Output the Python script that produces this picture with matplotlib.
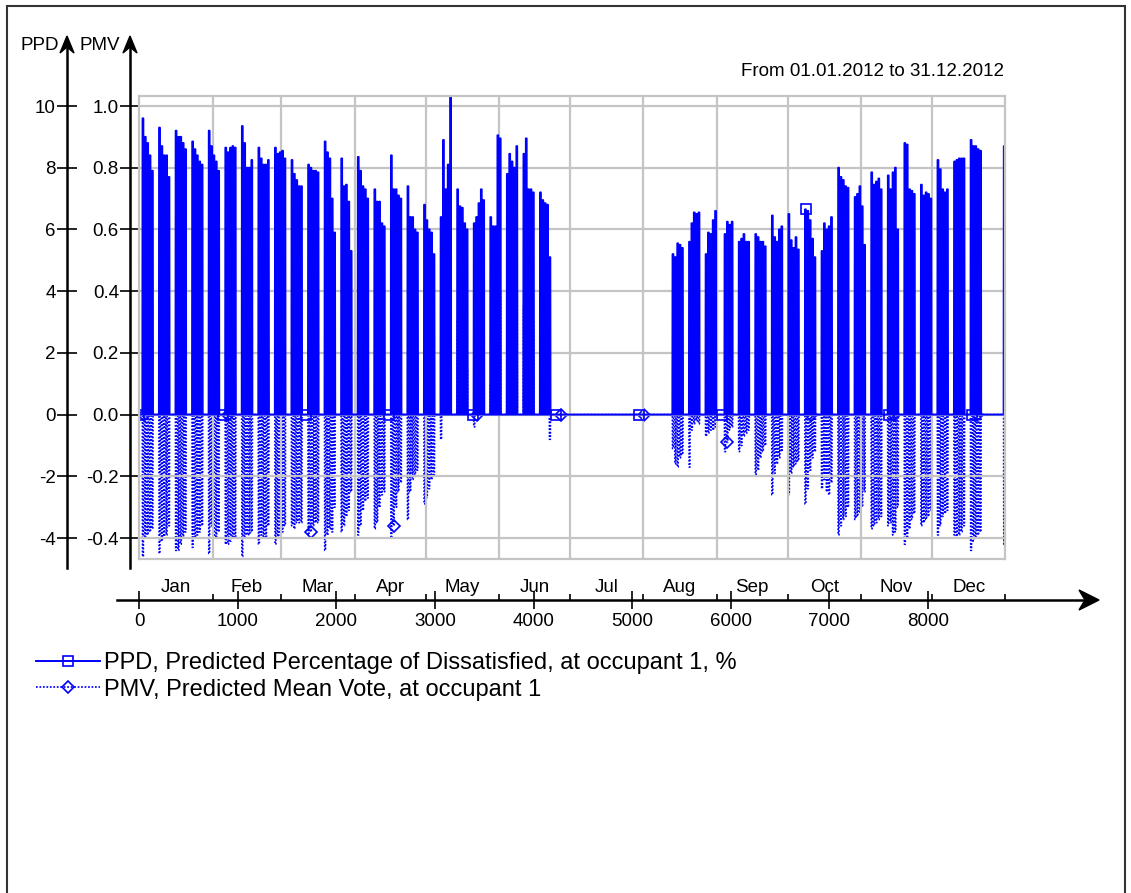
import numpy as np
import matplotlib
matplotlib.use("Agg")
import matplotlib.pyplot as plt
import matplotlib.transforms as mtransforms
from matplotlib.patches import Polygon, Rectangle

plt.rcParams['font.family'] = ['Liberation Sans', 'DejaVu Sans']

# daily maximum PPD (%) Mon..Fri, week 0 = 2-6 Jan 2012; empty weeks = no occupancy
ppd_weeks = [
    [9.6, 9.0, 8.8, 8.4, 7.9], [9.3, 8.7, 8.4, 8.4, 7.7], [9.2, 9.0, 9.0, 8.8, 8.6],
    [8.85, 8.6, 8.4, 8.2, 8.1], [9.2, 8.7, 8.4, 8.2, 7.9], [8.65, 8.5, 8.65, 8.7, 8.65],
    [9.35, 8.8, 8.0, 8.0, 8.25], [8.65, 8.3, 8.1, 8.1, 8.25], [8.65, 8.45, 8.5, 8.55, 8.3],
    [8.25, 7.8, 7.6, 7.4, 7.4], [8.1, 8.0, 7.9, 7.9, 7.85], [8.85, 8.5, 8.3, 7.0, 5.9],
    [8.3, 7.4, 7.45, 6.9, 5.3], [8.35, 7.9, 7.4, 7.3, 7.0], [7.3, 6.9, 6.9, 6.2, 6.1],
    [8.4, 7.3, 7.3, 7.1, 7.0], [7.4, 6.4, 6.4, 6.0, 5.9], [6.8, 6.3, 6.0, 5.9, 5.2],
    [6.4, 8.9, 7.3, 8.1, 10.3], [7.3, 6.75, 6.7, 6.2, 6.0], [6.2, 6.4, 6.85, 7.3, 6.95],
    [6.4, 6.1, 6.1, 9.05, 8.95], [7.8, 8.45, 8.2, 8.0, 8.7], [8.45, 8.95, 7.3, 7.3, 7.2],
    [7.2, 6.95, 6.85, 6.8, 5.1],
    [], [], [], [], [], [], [],
    [5.2, 5.1, 5.55, 5.5, 5.4], [5.6, 6.2, 6.55, 6.5, 6.55], [5.2, 5.9, 5.85, 6.3, 6.6],
    [0.0, 5.85, 6.25, 6.15, 6.25], [5.6, 5.7, 5.85, 5.6, 5.6], [5.85, 5.75, 5.6, 5.6, 5.45],
    [6.45, 5.75, 5.6, 6.0, 6.1], [6.5, 5.65, 5.4, 5.75, 5.35], [6.65, 6.6, 6.3, 5.7, 5.1],
    [5.3, 6.2, 6.0, 6.1, 6.4], [8.0, 7.7, 7.6, 7.4, 7.35], [7.05, 7.15, 7.4, 6.75, 5.5],
    [7.85, 7.45, 7.55, 7.65, 7.3], [7.75, 7.3, 7.85, 8.0, 6.0], [8.8, 8.75, 7.3, 7.25, 7.15],
    [7.45, 7.1, 7.2, 7.15, 7.0], [8.25, 7.95, 7.3, 7.2, 7.3], [8.2, 8.25, 8.3, 8.3, 8.3],
    [8.9, 8.7, 8.7, 8.6, 8.55],
    [],
    [8.7],
]

# daily minimum PMV (-) Mon..Fri, same weeks
pmv_weeks = [
    [-0.46, -0.40, -0.39, -0.38, -0.37], [-0.45, -0.41, -0.40, -0.39, -0.36],
    [-0.44, -0.44, -0.42, -0.40, -0.38], [-0.43, -0.40, -0.39, -0.38, -0.36],
    [-0.45, -0.36, -0.40, -0.40, -0.38], [-0.42, -0.42, -0.41, -0.40, -0.40],
    [-0.46, -0.40, -0.39, -0.39, -0.38], [-0.42, -0.39, -0.40, -0.40, -0.36],
    [-0.42, -0.40, -0.39, -0.38, -0.36], [-0.36, -0.37, -0.35, -0.35, -0.35],
    [-0.39, -0.38, -0.36, -0.35, -0.35], [-0.44, -0.39, -0.37, -0.38, -0.30],
    [-0.38, -0.36, -0.33, -0.31, -0.25], [-0.39, -0.36, -0.31, -0.28, -0.27],
    [-0.37, -0.35, -0.30, -0.26, -0.25], [-0.40, -0.36, -0.30, -0.25, -0.22],
    [-0.34, -0.25, -0.21, -0.20, -0.18], [-0.29, -0.27, -0.24, -0.21, -0.20],
    [-0.08, 0.35, 0.2, 0.3, 0.5], [0.3, 0.25, 0.25, 0.2, 0.15],
    [-0.04, 0.1, 0.2, 0.3, 0.25], [0.1, 0.05, 0.05, 0.4, 0.4],
    [0.3, 0.35, 0.35, 0.3, 0.4], [0.35, 0.4, 0.3, 0.3, 0.3],
    [0.25, 0.2, 0.2, 0.15, -0.08],
    [], [], [], [], [], [], [],
    [-0.11, -0.16, -0.17, -0.14, -0.13], [-0.17, -0.05, -0.03, -0.02, -0.03],
    [-0.07, -0.06, -0.05, -0.05, -0.04], [0.0, -0.12, -0.09, -0.05, -0.04],
    [-0.12, -0.10, -0.07, -0.06, -0.05], [-0.20, -0.18, -0.14, -0.12, -0.10],
    [-0.26, -0.19, -0.16, -0.14, -0.12], [-0.26, -0.19, -0.17, -0.16, -0.15],
    [-0.29, -0.24, -0.18, -0.14, -0.12], [-0.24, -0.21, -0.25, -0.26, -0.22],
    [-0.39, -0.36, -0.34, -0.33, -0.30], [-0.34, -0.33, -0.32, -0.30, -0.25],
    [-0.37, -0.36, -0.35, -0.34, -0.33], [-0.36, -0.35, -0.39, -0.38, -0.30],
    [-0.42, -0.40, -0.37, -0.34, -0.32], [-0.36, -0.35, -0.34, -0.33, -0.31],
    [-0.39, -0.36, -0.33, -0.32, -0.31], [-0.39, -0.40, -0.39, -0.38, -0.36],
    [-0.44, -0.41, -0.40, -0.39, -0.38],
    [],
    [-0.42],
]

months = ['Jan', 'Feb', 'Mar', 'Apr', 'May', 'Jun', 'Jul', 'Aug', 'Sep', 'Oct', 'Nov', 'Dec']
month_hours = [0, 744, 1440, 2184, 2904, 3648, 4368, 5112, 5856, 6576, 7320, 8040, 8784]
ppd_ticks = [-4, -2, 0, 2, 4, 6, 8, 10]
pmv_ticks = [-0.4, -0.2, 0.0, 0.2, 0.4, 0.6, 0.8, 1.0]
hour_ticks = [0, 1000, 2000, 3000, 4000, 5000, 6000, 7000, 8000]

n_hours = 8784
occ_start, occ_end = 8, 18   # occupied hours of a working day

hours = np.arange(n_hours)
ppd = np.zeros(n_hours)
pmv = np.zeros(n_hours)
for w, (pp, pm) in enumerate(zip(ppd_weeks, pmv_weeks)):
    for j, (a, b) in enumerate(zip(pp, pm)):
        day = 7 * w + 1 + j
        ppd[day * 24 + occ_start:day * 24 + occ_end] = a
        pmv[day * 24 + occ_start:day * 24 + occ_end] = b

W, H = 1131, 893
def fx(px):
    return px / W
def fy(py):
    return 1 - py / H

blue = '#0000ff'
grey = '#c4c4c4'
fs = 13.5

fig = plt.figure(figsize=(W / 100, H / 100), dpi=100)

# pixel layout of the plot frame
x0, x1 = 139.3, 1005.3
y_top, y_bot = 96, 559
y10, y_4 = 106, 538
ppu = (y_4 - y10) / 14.0
ylim = (-4 - (y_bot - y_4) / ppu, 10 + (y10 - y_top) / ppu)

ax = fig.add_axes([fx(x0), fy(y_bot), fx(x1) - fx(x0), fy(y_top) - fy(y_bot)])
ax.set_xlim(0, n_hours)
ax.set_ylim(*ylim)
ax.set_yticks(ppd_ticks)
ax.set_xticks(month_hours[1:-1])
ax.tick_params(length=0, labelleft=False, labelbottom=False)
ax.grid(True, color=grey, lw=1.6)
for s in ax.spines.values():
    s.set_color(grey)
    s.set_linewidth(1.6)
ax.set_axisbelow(True)

ax2 = ax.twinx()
ax2.set_ylim(ylim[0] / 10, ylim[1] / 10)
ax2.axis('off')

l_pmv, = ax2.plot(hours, pmv, color=blue, lw=1.25, ls=(0, (1, 1)),
                  marker='D', ms=6, mfc='none', mec=blue, mew=1.2, markevery=(50, 845),
                  label='PMV, Predicted Mean Vote, at occupant 1')
l_ppd, = ax.plot(hours, ppd, color=blue, lw=1.4,
                 marker='s', ms=7, mfc='none', mec=blue, mew=1.2, markevery=(0, 845),
                 label='PPD, Predicted Percentage of Dissatisfied, at occupant 1, %')
ax.set_zorder(ax2.get_zorder() + 1)
ax.patch.set_visible(False)

# vertical value axes to the left of the frame
def value_axis(xpix, ticks, labels, scale):
    top_px, bot_px = 40, 568
    a = fig.add_axes([fx(xpix), fy(bot_px), fx(1), fy(top_px) - fy(bot_px)])
    lo = -4 - (bot_px - y_4) / ppu
    hi = 10 + (y10 - top_px) / ppu
    a.set_ylim(lo * scale, hi * scale)
    a.set_yticks(ticks)
    a.set_yticklabels(labels)
    a.set_xticks([])
    for k in ['top', 'right', 'bottom']:
        a.spines[k].set_visible(False)
    a.spines['left'].set_linewidth(1.8)
    a.patch.set_visible(False)
    a.tick_params(axis='y', direction='inout', length=14, width=1.2, pad=1, labelsize=fs)
    head = Polygon([[fx(xpix), fy(36)], [fx(xpix + 7), fy(53)], [fx(xpix), fy(47)],
                    [fx(xpix - 7), fy(53)]], closed=True, color='black',
                   transform=fig.transFigure)
    fig.add_artist(head)
    return a

value_axis(67, ppd_ticks, [str(t) for t in ppd_ticks], 1.0)
value_axis(130, pmv_ticks, ['%.1f' % t for t in pmv_ticks], 0.1)
fig.text(fx(59), fy(45), 'PPD', ha='right', va='center', fontsize=fs)
fig.text(fx(120), fy(45), 'PMV', ha='right', va='center', fontsize=fs)

# time axis below the frame
hpp = n_hours / (x1 - x0)
xa0, xa1 = 117, 1088
axx = fig.add_axes([fx(xa0), fy(600), fx(xa1) - fx(xa0), fx(1)])
axx.set_xlim((xa0 - x0) * hpp, (xa1 - x0) * hpp)
for k in ['top', 'right', 'left']:
    axx.spines[k].set_visible(False)
axx.spines['bottom'].set_linewidth(1.8)
axx.patch.set_visible(False)
axx.set_yticks([])
axx.set_xticks(hour_ticks)
axx.set_xticks(month_hours[1:], minor=True)
axx.tick_params(axis='x', which='major', direction='inout', length=13, width=1.2,
                pad=3, labelsize=fs)
axx.tick_params(axis='x', which='minor', direction='in', length=4, width=1.2)
trans = mtransforms.blended_transform_factory(axx.transData, fig.transFigure)
for m, a, b in zip(months, month_hours[:-1], month_hours[1:]):
    axx.text((a + b) / 2, fy(587), m, transform=trans, ha='center', va='center',
             fontsize=fs)
fig.add_artist(Polygon([[fx(1099), fy(600)], [fx(1079), fy(590)], [fx(1085), fy(600)],
                        [fx(1079), fy(610)]], closed=True, color='black',
                       transform=fig.transFigure))

fig.text(fx(1004), fy(71), 'From 01.01.2012 to 31.12.2012', ha='right', va='center',
         fontsize=13.5)

fig.legend(handles=[l_ppd, l_pmv], loc='upper left', bbox_to_anchor=(fx(36), fy(652)),
           frameon=False, fontsize=17, handlelength=2.7, handletextpad=0.2,
           borderpad=0, borderaxespad=0, labelspacing=0.2)

# page frame
fig.add_artist(Rectangle((fx(7), fy(893 + 5)), fx(1125) - fx(7), fy(6) - fy(898),
                         fill=False, lw=1.5, ec='#333333', transform=fig.transFigure))

fig.savefig('out.png', dpi=100)
